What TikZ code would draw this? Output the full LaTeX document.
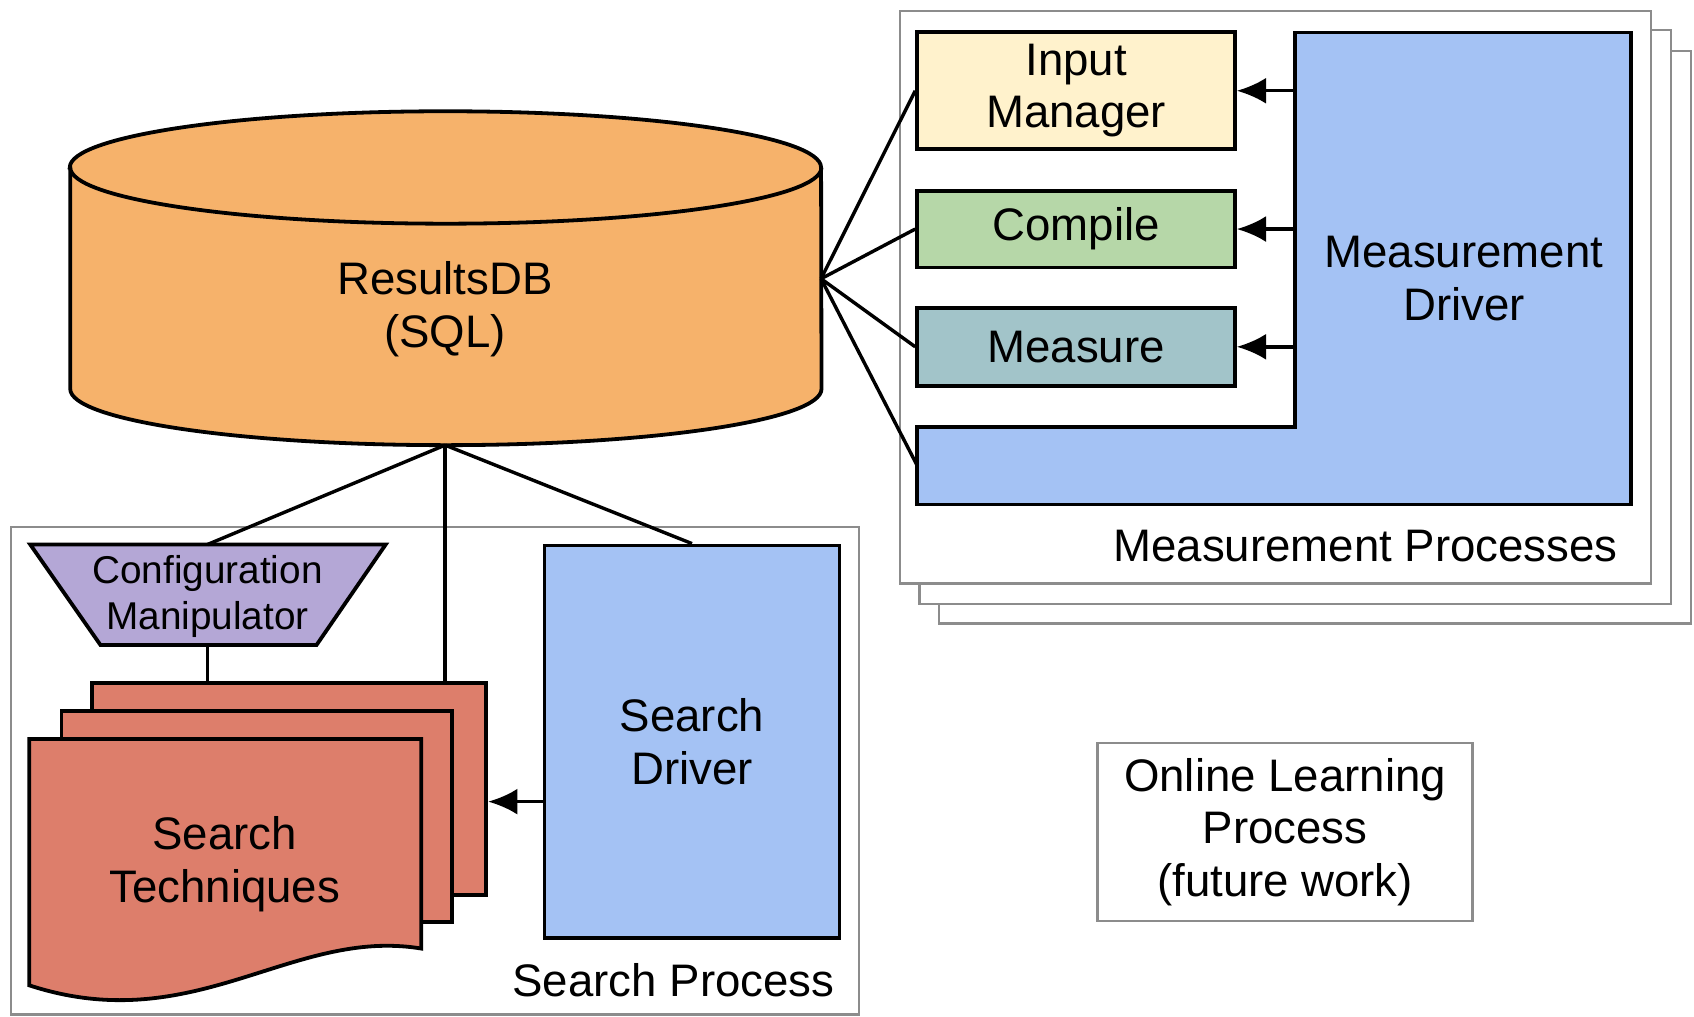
\documentclass[tikz,border=0pt]{standalone}
\usepackage{fontspec}
\setmainfont{Liberation Sans}
\usetikzlibrary{arrows.meta}

\definecolor{dborange}{HTML}{F6B26B}
\definecolor{inputyellow}{HTML}{FFF2CC}
\definecolor{compilegreen}{HTML}{B6D7A8}
\definecolor{measureteal}{HTML}{A2C4C9}
\definecolor{driverblue}{HTML}{A4C2F4}
\definecolor{cfgpurple}{HTML}{B4A7D6}
\definecolor{pagered}{HTML}{DD7E6B}
\definecolor{framegray}{HTML}{8C8C8C}

\begin{document}
\begin{tikzpicture}[
  x=0.01cm, y=-0.01cm,
  every node/.style={font=\fontsize{12}{13.8}\selectfont, align=center, inner sep=0pt},
  box/.style={draw=black, line width=1pt},
  frame/.style={draw=framegray, line width=0.6pt},
  link/.style={line width=0.9pt},
  arr/.style={line width=0.9pt, -{Latex[length=2.7mm,width=2.4mm]}}
  ]

\useasboundingbox (0,0) rectangle (1568,941);

\filldraw[box, fill=dborange] (65,155) -- (65,360)
arc[start angle=180, end angle=360, x radius=3.475cm, y radius=0.52cm]
-- (760,155)
arc[start angle=0, end angle=180, x radius=3.475cm, y radius=0.52cm] -- cycle;
\draw[box] (65,155) arc[start angle=180, end angle=360, x radius=3.475cm, y radius=0.52cm];
\node (db) at (412,286) {ResultsDB\\(SQL)};
\coordinate (dbeast) at (760,258);
\coordinate (dbbot) at (412,412);

\filldraw[frame, fill=white] (869,47) rectangle (1565,577);
\filldraw[frame, fill=white] (851,28) rectangle (1547,559);
\filldraw[frame, fill=white] (833,10) rectangle (1528,540);
\node[anchor=east] (mplabel) at (1498,505) {Measurement Processes};

\filldraw[box, fill=driverblue] (1199,30)
-- (1510,30)
-- (1510,467)
-- (849,467)
-- (849,395)
-- (1199,395) -- cycle;
\node (mdrv) at (1355,258) {Measurement\\Driver};
\coordinate (drvedge) at (1199,30);
\coordinate (drvfoot) at (849,431);

\node[box, fill=inputyellow, minimum width=2.94cm, minimum height=1.08cm] (inman) at (996,84) {Input\\Manager};
\node[box, fill=compilegreen, minimum width=2.94cm, minimum height=0.71cm] (compile) at (996,212) {Compile};
\node[box, fill=measureteal, minimum width=2.94cm, minimum height=0.72cm] (measure) at (996,321) {Measure};

\draw[arr] (drvedge |- inman.east) -- (inman.east);
\draw[arr] (drvedge |- compile.east) -- (compile.east);
\draw[arr] (drvedge |- measure.east) -- (measure.east);

\draw[link] (dbeast) -- (inman.west);
\draw[link] (dbeast) -- (compile.west);
\draw[link] (dbeast) -- (measure.west);
\draw[link] (dbeast) -- (drvfoot);

\draw[frame] (10,488) rectangle (795,939);
\node[anchor=east] (splabel) at (773,907) {Search Process};

\filldraw[box, fill=cfgpurple] (28,504)
-- (357,504)
-- (293,597)
-- (93,597) -- cycle;
\node[font=\fontsize{10.2}{12}\selectfont] (cfg) at (192,552) {Configuration\\Manipulator};
\coordinate (cfgtop) at (192,504);
\coordinate (cfgbot) at (192,597);

\node[box, fill=driverblue, minimum width=2.73cm, minimum height=3.63cm] (sdrv) at (640.5,686.5) {Search\\Driver};

\node[box, fill=pagered, minimum width=3.65cm, minimum height=1.96cm] (stpage3) at (267.5,730) {};
\node[box, fill=pagered, minimum width=3.61cm, minimum height=1.95cm] (stpage2) at (237.5,755.5) {};
\filldraw[box, fill=pagered] (27,684)
-- (390,684)
-- (390,878) .. controls (270,858) and (180,962) .. (27,912) -- cycle;
\node (stech) at (208,800) {Search\\Techniques};

\draw[link] (dbbot) -- (cfgtop);
\draw[link] (dbbot) -- (dbbot |- stpage3.north);
\draw[link] (dbbot) -- (sdrv.north);
\draw[link] (cfgbot) -- (cfgbot |- stpage3.north);
\draw[arr] (sdrv.west |- 0,742) -- (stpage3.east |- 0,742);

\node[frame, minimum width=3.47cm, minimum height=1.65cm] (onl) at (1189.5,770) {Online Learning\\Process\\(future work)};

\end{tikzpicture}
\end{document}
